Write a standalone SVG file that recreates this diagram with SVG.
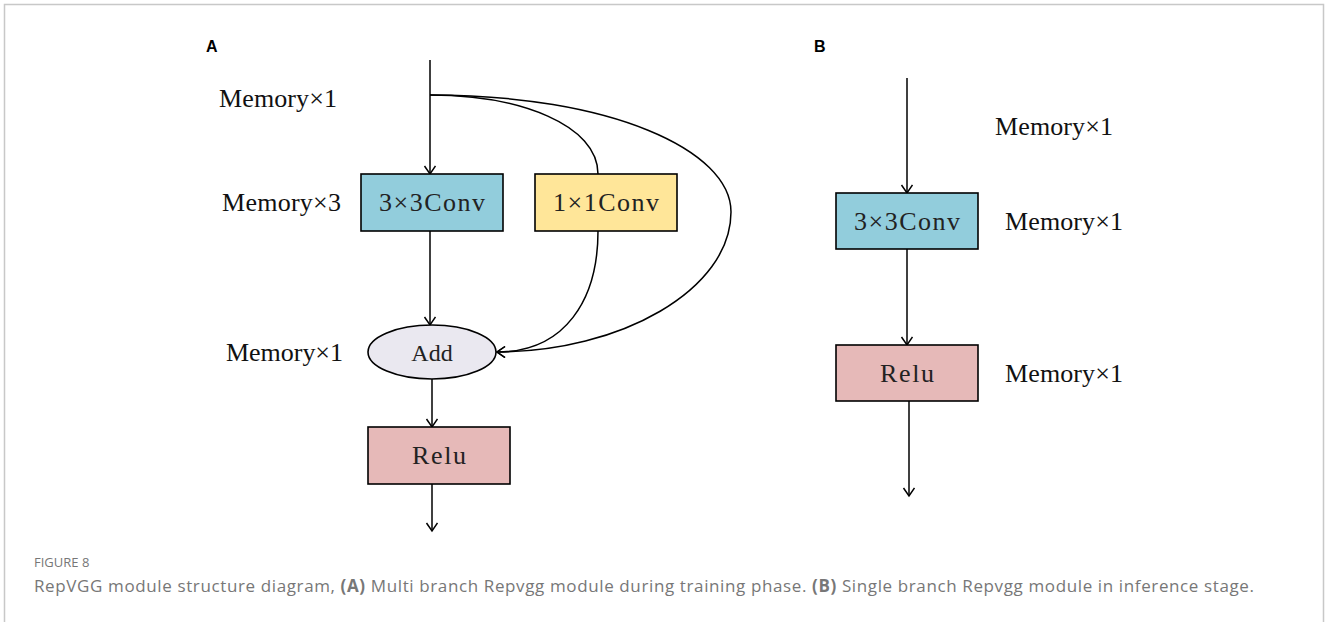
<svg xmlns="http://www.w3.org/2000/svg" width="1328" height="622" viewBox="0 0 1328 622">
<defs>
<marker id="ah" markerWidth="16" markerHeight="16" refX="9" refY="6" orient="auto" markerUnits="userSpaceOnUse">
<path d="M1,0.5 L9,6 L1,11.5" fill="none" stroke="#000" stroke-width="1.5"/>
</marker>
<style>
.box{stroke:#000;stroke-width:1.6}
.lbl{font-family:"Liberation Serif","Noto Sans CJK SC",serif;font-size:26px;fill:#111}
.in{font-family:"Liberation Serif","Noto Sans CJK SC",serif;font-size:26px;fill:#222;text-anchor:middle}
.ln{fill:none;stroke:#000;stroke-width:1.5}
.pl{font-family:"Liberation Sans",Arial,sans-serif;font-size:16px;font-weight:bold;fill:#000}
</style>
</defs>
<rect width="1328" height="622" fill="#fff"/>
<path d="M4.5,622 V4.5 H1323.5 V622" fill="none" stroke="#c8c8c8" stroke-width="1.5"/>

<text class="pl" x="206" y="52">A</text>
<text class="pl" x="814" y="52">B</text>

<g id="connectors">
<path class="ln" d="M430,60 V174" marker-end="url(#ah)"/>
<path class="ln" d="M430,95 C520,95 598,125 598,174"/>
<path class="ln" d="M598,231 C598,300 565,352 497,352" marker-end="url(#ah)"/>
<path class="ln" d="M430,95 C610,95 731,150 731,212 C731,290 620,352 497,352" marker-end="url(#ah)"/>
<path class="ln" d="M430,231 V325" marker-end="url(#ah)"/>
<path class="ln" d="M432,379 V427" marker-end="url(#ah)"/>
<path class="ln" d="M432,484 V531" marker-end="url(#ah)"/>
<path class="ln" d="M907,78 V193" marker-end="url(#ah)"/>
<path class="ln" d="M907,249 V345" marker-end="url(#ah)"/>
<path class="ln" d="M909,401 V496" marker-end="url(#ah)"/>
</g>

<g id="a-conv3">
<rect class="box" x="361" y="174" width="142" height="57" fill="#92CDDC"/>
<text class="in" x="432" y="211" textLength="106">3×3Conv</text>
</g>
<g id="a-conv1">
<rect class="box" x="535" y="174" width="142" height="57" fill="#FFE699"/>
<text class="in" x="606" y="211" textLength="106">1×1Conv</text>
</g>
<g id="a-add">
<ellipse class="box" cx="432" cy="352" rx="64" ry="27" fill="#EAE8F0"/>
<text class="in" x="432" y="361" style="font-size:24px">Add</text>
</g>
<g id="a-relu">
<rect class="box" x="368" y="427" width="142" height="57" fill="#E6B9B8"/>
<text class="in" x="439" y="464" textLength="54">Relu</text>
</g>
<g id="b-conv3">
<rect class="box" x="836" y="193" width="142" height="56" fill="#92CDDC"/>
<text class="in" x="907" y="230" textLength="106">3×3Conv</text>
</g>
<g id="b-relu">
<rect class="box" x="836" y="345" width="142" height="56" fill="#E6B9B8"/>
<text class="in" x="907" y="382" textLength="54">Relu</text>
</g>

<g id="labels">
<text class="lbl" x="219" y="107" textLength="118">Memory×1</text>
<text class="lbl" x="222" y="211" textLength="119">Memory×3</text>
<text class="lbl" x="226" y="361" textLength="117">Memory×1</text>
<text class="lbl" x="995" y="135" textLength="118">Memory×1</text>
<text class="lbl" x="1005" y="230" textLength="118">Memory×1</text>
<text class="lbl" x="1005" y="382" textLength="118">Memory×1</text>
</g>

<g id="caption">
<text x="34" y="567" font-family="'Open Sans',sans-serif" font-size="13" fill="#777">FIGURE 8</text>
<text x="34" y="592" font-family="'Open Sans',sans-serif" font-size="17" fill="#777" textLength="1220">RepVGG module structure diagram, <tspan font-weight="bold">(A)</tspan> Multi branch Repvgg module during training phase. <tspan font-weight="bold">(B)</tspan> Single branch Repvgg module in inference stage.</text>
</g>
</svg>
